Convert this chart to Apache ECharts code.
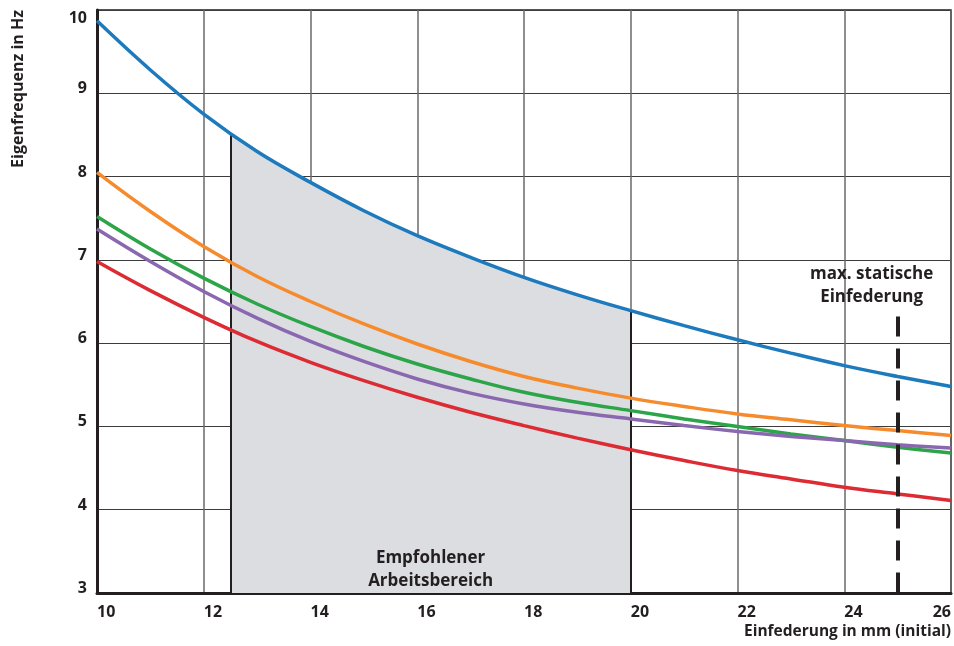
<!DOCTYPE html>
<html>
<head>
<meta charset="utf-8">
<script src="https://cdn.jsdelivr.net/npm/echarts@6/dist/echarts.min.js"></script>
<style>
html,body{margin:0;padding:0;background:#fff;}
#chart{width:954px;height:646px;}
</style>
</head>
<body>
<div id="chart"></div>
<script>
// ---- data ----
const deflection = [10, 11, 12, 13, 14, 15, 16, 17, 18, 19, 20, 21, 22, 23, 24, 25, 26];
const blueCurve   = [9.87, 9.28, 8.75, 8.30, 7.93, 7.59, 7.29, 7.03, 6.79, 6.58, 6.39, 6.21, 6.04, 5.88, 5.73, 5.60, 5.48];
const orangeCurve = [8.05, 7.58, 7.16, 6.80, 6.50, 6.23, 5.99, 5.78, 5.60, 5.46, 5.34, 5.24, 5.15, 5.08, 5.01, 4.95, 4.89];
const greenCurve  = [7.52, 7.13, 6.78, 6.47, 6.20, 5.96, 5.75, 5.57, 5.41, 5.29, 5.19, 5.09, 5.00, 4.91, 4.83, 4.75, 4.68];
const purpleCurve = [7.37, 6.98, 6.62, 6.30, 6.02, 5.78, 5.57, 5.40, 5.27, 5.17, 5.09, 5.01, 4.94, 4.88, 4.83, 4.78, 4.74];
const redCurve    = [6.98, 6.63, 6.31, 6.02, 5.77, 5.55, 5.35, 5.17, 5.01, 4.86, 4.72, 4.59, 4.47, 4.37, 4.27, 4.19, 4.11];

const rangeStart = 12.5;       // Empfohlener Arbeitsbereich: start
const rangeStartTop = 8.51;    // blue curve value at range start
const rangeEnd = 20;           // end of recommended range
const maxStatic = 25;          // max. statische Einfederung
const maxStaticTop = 6.32;     // top of dashed marker

const xTicks = {min: 10, max: 26, interval: 2};
const yTicks = {min: 3, max: 10, interval: 1};

const xAxisTitle = 'Einfederung in mm (initial)';
const yAxisTitle = 'Eigenfrequenz in Hz';
const rangeLabel = 'Empfohlener\nArbeitsbereich';
const maxLabel = 'max. statische\nEinfederung';

// ---- chart ----
const INK = '#231f20';
const FONT = '"Open Sans", "DejaVu Sans", sans-serif';
const colors = ['#1c7abd', '#f68b2e', '#2ba548', '#8a68b0', '#dc2b33'];
const curves = [blueCurve, orangeCurve, greenCurve, purpleCurve, redCurve];

function pts(vals) { return deflection.map((x, i) => [x, vals[i]]); }

const areaData = [[rangeStart, rangeStartTop]].concat(
  deflection.map((x, i) => [x, blueCurve[i]]).filter(p => p[0] > rangeStart && p[0] <= rangeEnd)
);
const rangeEndTop = blueCurve[deflection.indexOf(rangeEnd)];

const series = [];
series.push({
  type: 'line',
  data: areaData,
  smooth: 0.4,
  showSymbol: false,
  silent: true,
  z: 1,
  lineStyle: {width: 0},
  areaStyle: {color: '#dcdde0', opacity: 1, origin: 'start'},
  markLine: {
    silent: true,
    symbol: 'none',
    z: 2,
    label: {show: false},
    lineStyle: {color: INK, width: 2, type: 'solid'},
    data: [
      [{coord: [rangeStart, yTicks.min]}, {coord: [rangeStart, rangeStartTop]}],
      [{coord: [rangeEnd, yTicks.min]}, {coord: [rangeEnd, rangeEndTop]}]
    ]
  },
  markPoint: {
    silent: true,
    symbol: 'circle',
    symbolSize: 0,
    data: [{coord: [(rangeStart + rangeEnd) / 2, yTicks.min]}],
    label: {
      show: true,
      position: 'top',
      distance: 0,
      formatter: rangeLabel,
      color: INK,
      fontFamily: FONT,
      fontWeight: 'bold',
      fontSize: 17,
      lineHeight: 23,
      align: 'center'
    }
  }
});

curves.forEach((vals, k) => {
  series.push({
    type: 'line',
    data: pts(vals),
    smooth: 0.4,
    showSymbol: false,
    silent: true,
    z: 4,
    lineStyle: {width: 3.5, color: colors[k]},
    itemStyle: {color: colors[k]}
  });
});

series.push({
  type: 'line',
  data: [],
  z: 5,
  markLine: {
    silent: true,
    symbol: 'none',
    lineStyle: {color: INK, width: 4, type: [20, 12]},
    label: {
      show: true,
      position: 'start',
      distance: 8,
      offset: [-26, 0],
      formatter: maxLabel,
      color: INK,
      fontFamily: FONT,
      fontWeight: 'bold',
      fontSize: 17,
      lineHeight: 23
    },
    data: [[{coord: [maxStatic, maxStaticTop]}, {coord: [maxStatic, yTicks.min]}]]
  }
});

const chart = echarts.init(document.getElementById('chart'), null, {renderer: 'canvas'});
chart.setOption({
  animation: false,
  backgroundColor: '#fff',
  grid: {
    left: 97, right: 2, top: 10, bottom: 53,
    show: true, borderColor: INK, borderWidth: 1.5, backgroundColor: 'transparent'
  },
  xAxis: {
    type: 'value',
    min: xTicks.min, max: xTicks.max, interval: xTicks.interval,
    name: xAxisTitle,
    nameLocation: 'end',
    nameGap: 0,
    nameMoveOverlap: false,
    nameTextStyle: {
      color: INK, fontFamily: FONT, fontWeight: 'bold', fontSize: 15.5,
      align: 'right', verticalAlign: 'top', padding: [31, 0, 0, 0]
    },
    axisLine: {show: true, onZero: false, lineStyle: {color: INK, width: 3}},
    axisTick: {show: false},
    axisLabel: {
      color: INK, fontFamily: FONT, fontWeight: 'bold', fontSize: 16,
      margin: 11, align: 'left', alignMaxLabel: 'right'
    },
    splitLine: {show: true, lineStyle: {color: '#6a6a6a', width: 1.5}}
  },
  yAxis: {
    type: 'value',
    min: yTicks.min, max: yTicks.max, interval: yTicks.interval,
    name: yAxisTitle,
    nameLocation: 'end',
    nameGap: 0,
    nameRotate: 90,
    nameMoveOverlap: false,
    nameTextStyle: {
      color: INK, fontFamily: FONT, fontWeight: 'bold', fontSize: 16,
      align: 'right', verticalAlign: 'bottom', padding: [0, 0, 71, 0]
    },
    axisLine: {show: true, onZero: false, lineStyle: {color: INK, width: 3}},
    axisTick: {show: false},
    axisLabel: {
      color: INK, fontFamily: FONT, fontWeight: 'bold', fontSize: 16,
      margin: 10, verticalAlign: 'bottom', verticalAlignMaxLabel: 'top',
      lineHeight: 9, padding: [4, 0, 0, 0]
    },
    splitLine: {show: true, lineStyle: {color: '#3c3c3c', width: 1.2}}
  },
  series: series
});
</script>
</body>
</html>
